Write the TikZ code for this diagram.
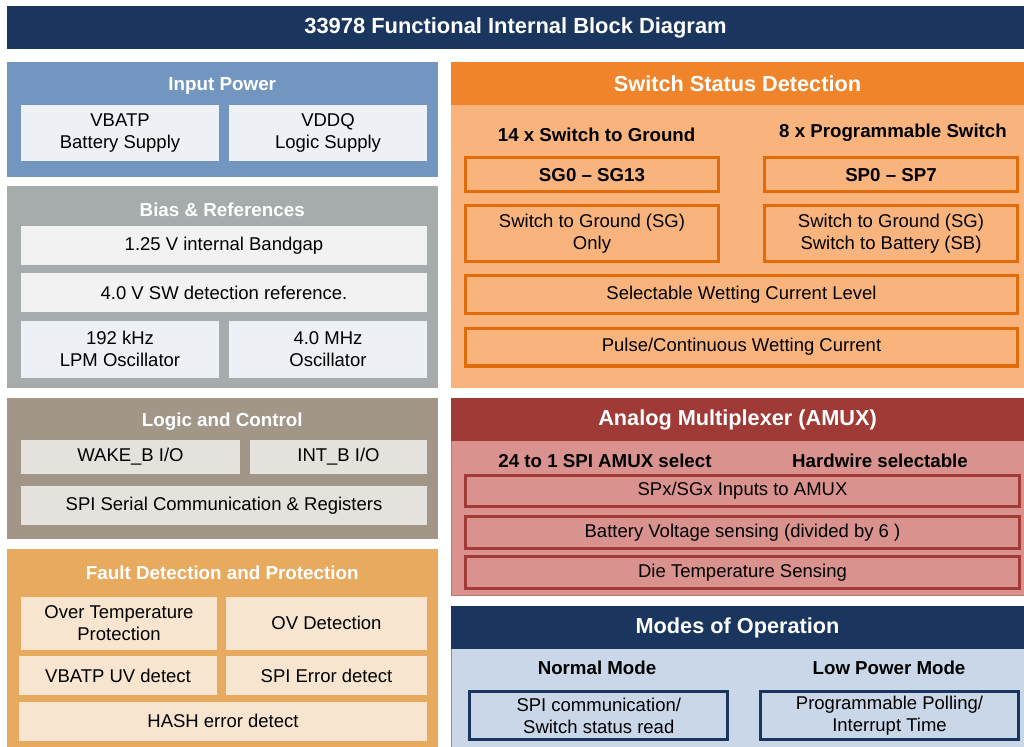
\documentclass[tikz,border=0pt]{standalone}
\usepackage{fontspec}
\setmainfont{Liberation Sans}
\usepackage{tikz}
\usetikzlibrary{positioning}

\definecolor{navy}{RGB}{26,54,94}
\definecolor{powerblue}{RGB}{115,150,192}
\definecolor{powercell}{RGB}{237,240,245}
\definecolor{biasgray}{RGB}{166,172,171}
\definecolor{biascell}{RGB}{242,242,242}
\definecolor{logicbrown}{RGB}{162,150,137}
\definecolor{logiccell}{RGB}{229,226,221}
\definecolor{faultorange}{RGB}{232,170,95}
\definecolor{faultcell}{RGB}{248,229,207}
\definecolor{switchhead}{RGB}{240,132,42}
\definecolor{switchbody}{RGB}{248,180,124}
\definecolor{switchline}{RGB}{227,108,10}
\definecolor{amuxhead}{RGB}{159,58,54}
\definecolor{amuxbody}{RGB}{218,146,142}
\definecolor{amuxline}{RGB}{162,58,53}
\definecolor{modesbody}{RGB}{201,215,232}

\newcommand{\bodyfont}{\fontsize{18.5}{22}\selectfont}
\newcommand{\sidefont}{\fontsize{18.8}{22}\selectfont\bfseries}
\newcommand{\bandfont}{\fontsize{21.7}{25}\selectfont\bfseries}
\newcommand{\titlefont}{\fontsize{21.9}{25}\selectfont\bfseries}
\newcommand{\subfont}{\fontsize{18.7}{22}\selectfont\bfseries}

\tikzstyle{panel} = [rectangle, inner sep=0, outer sep=0]
\tikzstyle{cell} = [rectangle, inner sep=0, align=center, font=\bodyfont]
\tikzstyle{frame} = [rectangle, inner sep=0, align=center, font=\bodyfont, line width=3.2pt]
\tikzstyle{sidehead} = [text=white, font=\sidefont]
\tikzstyle{bandhead} = [text=white, font=\bandfont]
\tikzstyle{subhead} = [font=\subfont]

\begin{document}
\begin{tikzpicture}[x=1pt, y=-1pt]
	\useasboundingbox (0, 0) rectangle (1024, 746);

	\node (Title) [panel, fill=navy, minimum width=1017pt, minimum height=43pt, text=white, font=\titlefont] at (515.5, 27.5) {33978 Functional Internal Block Diagram};

	% input power
	\node (Power) [panel, fill=powerblue, minimum width=430.5pt, minimum height=114.5pt] at (222.25, 119.25) {};
	\node (PowerHead) [sidehead] at (222.25, 86) {Input Power};
	\node (VBATP) [cell, fill=powercell, minimum width=198pt, minimum height=56.5pt] at (120, 133.25) {VBATP\\Battery Supply};
	\node (VDDQ) [cell, fill=powercell, minimum width=198pt, minimum height=56.5pt] at (328, 133.25) {VDDQ\\Logic Supply};

	% bias and references
	\node (Bias) [panel, fill=biasgray, minimum width=430.5pt, minimum height=202pt] at (222.25, 287) {};
	\node (BiasHead) [sidehead] at (222.25, 210) {Bias \& References};
	\node (Bandgap) [cell, fill=biascell, minimum width=406pt, minimum height=39pt] at (224, 245.5) {1.25 V internal Bandgap};
	\node (SWRef) [cell, fill=biascell, minimum width=406pt, minimum height=38.4pt] at (224, 292.5) {4.0 V SW detection reference.};
	\node (LPMOsc) [cell, fill=powercell, minimum width=198pt, minimum height=56.7pt] at (120, 349.35) {192 kHz\\LPM Oscillator};
	\node (MainOsc) [cell, fill=powercell, minimum width=198pt, minimum height=56.7pt] at (328, 349.35) {4.0 MHz\\Oscillator};

	% logic and control
	\node (Logic) [panel, fill=logicbrown, minimum width=430.5pt, minimum height=141pt] at (222.25, 468.8) {};
	\node (LogicHead) [sidehead] at (222.25, 421.7) {Logic and Control};
	\node (Wake) [cell, fill=logiccell, minimum width=219pt, minimum height=34pt] at (130.5, 457) {WAKE\_B I/O};
	\node (Int) [cell, fill=logiccell, minimum width=177pt, minimum height=34pt] at (338.5, 457) {INT\_B I/O};
	\node (SPI) [cell, fill=logiccell, minimum width=406pt, minimum height=39pt] at (224, 505.5) {SPI Serial Communication \& Registers};

	% fault detection
	\node (Fault) [panel, fill=faultorange, minimum width=430.5pt, minimum height=200.7pt] at (222.25, 649.65) {};
	\node (FaultHead) [sidehead] at (222.25, 572.7) {Fault Detection and Protection};
	\node (OverTemp) [cell, fill=faultcell, minimum width=196pt, minimum height=53.5pt] at (119, 623.25) {Over Temperature\\Protection};
	\node (OV) [cell, fill=faultcell, minimum width=201pt, minimum height=53.5pt] at (326.5, 623.25) {OV Detection};
	\node (UV) [cell, fill=faultcell, minimum width=198pt, minimum height=39pt] at (118, 675.5) {VBATP UV detect};
	\node (SPIErr) [cell, fill=faultcell, minimum width=201pt, minimum height=39pt] at (326.5, 675.5) {SPI Error detect};
	\node (Hash) [cell, fill=faultcell, minimum width=408pt, minimum height=39pt] at (223, 721.2) {HASH error detect};

	% switch status detection
	\node (Switch) [panel, fill=switchbody, minimum width=573pt, minimum height=326.3pt] at (737.5, 225.15) {};
	\node (SwitchHead) [panel, bandhead, fill=switchhead, minimum width=573pt, minimum height=43.5pt] at (737.5, 83.75) {Switch Status Detection};
	\node (GndHead) [subhead] at (596.6, 135) {14 x Switch to Ground};
	\node (ProgHead) [subhead] at (893, 132.7) {8 x Programmable Switch};
	\node (SG) [frame, draw=switchline, font=\subfont, minimum width=252.5pt, minimum height=33.8pt] at (592, 174.65) {SG0 – SG13};
	\node (SP) [frame, draw=switchline, font=\subfont, minimum width=252.5pt, minimum height=33.8pt] at (891, 174.65) {SP0 – SP7};
	\node (SGOnly) [frame, draw=switchline, minimum width=252.5pt, minimum height=55.8pt] at (592, 233.65) {Switch to Ground (SG)\\Only};
	\node (SGSB) [frame, draw=switchline, minimum width=252.5pt, minimum height=55.8pt] at (891, 233.65) {Switch to Ground (SG)\\Switch to Battery (SB)};
	\node (Level) [frame, draw=switchline, minimum width=551.5pt, minimum height=37.5pt] at (741.5, 294.5) {Selectable Wetting Current Level};
	\node (Pulse) [frame, draw=switchline, minimum width=551.5pt, minimum height=37.5pt] at (741.5, 347.2) {Pulse/Continuous Wetting Current};

	% analog multiplexer
	\node (Amux) [panel, fill=amuxbody, draw=amuxhead!70, line width=0.8pt, minimum width=573pt, minimum height=197.2pt] at (737.5, 496.9) {};
	\node (AmuxHead) [panel, bandhead, fill=amuxhead, minimum width=573pt, minimum height=42.7pt] at (737.5, 419.65) {Analog Multiplexer (AMUX)};
	\node (SelHead) [subhead] at (605, 460.7) {24 to 1 SPI AMUX select};
	\node (WireHead) [subhead] at (880, 460.7) {Hardwire selectable};
	\node (Inputs) [frame, draw=amuxline, minimum width=553.5pt, minimum height=30.8pt] at (742.5, 491.15) {SPx/SGx Inputs to AMUX};
	\node (Battery) [frame, draw=amuxline, minimum width=553.5pt, minimum height=31.5pt] at (742.5, 532.5) {Battery Voltage sensing (divided by 6 )};
	\node (DieTemp) [frame, draw=amuxline, minimum width=553.5pt, minimum height=31.5pt] at (742.5, 572.5) {Die Temperature Sensing};

	% modes of operation
	\node (Modes) [panel, fill=modesbody, draw=powerblue, line width=0.8pt, minimum width=573pt, minimum height=144pt] at (737.5, 678) {};
	\node (ModesHead) [panel, bandhead, fill=navy, minimum width=573pt, minimum height=43pt] at (737.5, 627.5) {Modes of Operation};
	\node (NormalHead) [subhead] at (597, 668.3) {Normal Mode};
	\node (LowHead) [subhead] at (889, 668.3) {Low Power Mode};
	\node (Comm) [frame, draw=navy, minimum width=258pt, minimum height=47.5pt] at (598.75, 715.5) {SPI communication/\\Switch status read};
	\node (Polling) [frame, draw=navy, minimum width=257.5pt, minimum height=47.5pt] at (889.5, 715.5) {Programmable Polling/\\Interrupt Time};
\end{tikzpicture}
\end{document}
